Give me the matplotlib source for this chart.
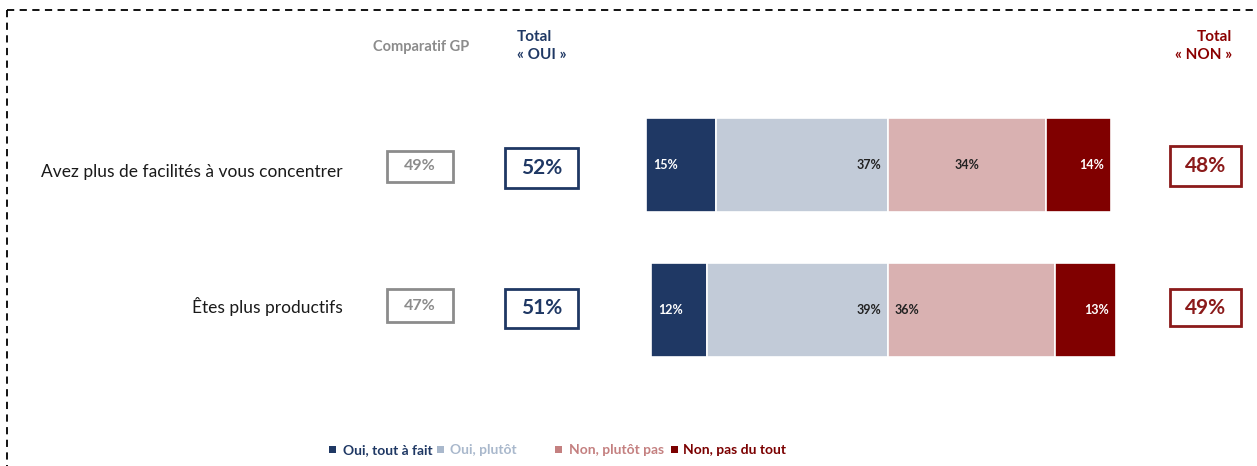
import matplotlib
matplotlib.use("Agg")
import matplotlib.pyplot as plt
from matplotlib.patches import Rectangle
from matplotlib.lines import Line2D

# ---- data ----
questions = ["Avez plus de facilités à vous concentrer", "Êtes plus productifs"]
oui_tout = [15, 12]
oui_plutot = [37, 39]
non_plutot = [34, 36]
non_pas = [14, 13]
comparatif_gp = [49, 47]
total_oui = [52, 51]
total_non = [48, 49]
legend_labels = ["Oui, tout à fait", "Oui, plutôt", "Non, plutôt pas", "Non, pas du tout"]

colors = ["#1f3864", "#c2cbd8", "#d9b1b1", "#800000"]
legend_sq_colors = ["#1f3864", "#a9b8cc", "#c48080", "#7b0000"]
legend_text_colors = ["#1f3864", "#a9b8cc", "#c48080", "#7b0000"]
label_colors = ["white", "#222222", "#222222", "white"]
# label placement inside each segment, per row
placements = [["base", "end", "center", "end"],
              ["base", "end", "base", "end"]]

W, H = 1257, 466
plt.rcParams['font.family'] = ['Lato', 'DejaVu Sans']
fig = plt.figure(figsize=(W / 100, H / 100), dpi=100)

def fx(px):
    return px / W

def fy(py):
    return 1 - py / H

# bar axes spanning whole figure; x in %, 0 at pixel 888
center_px = 888
scale = 4.65
ax = fig.add_axes([0, 0, 1, 1])
ax.set_xlim(-center_px / scale, (W - center_px) / scale)
row_px = [165, 310]
step = row_px[1] - row_px[0]
ax.set_ylim((H - row_px[0]) / step, -row_px[0] / step)
ax.axis("off")

bar_h = 94 / step
for i in range(len(questions)):
    segs = [oui_tout[i], oui_plutot[i], non_plutot[i], non_pas[i]]
    lefts = [-(oui_tout[i] + oui_plutot[i]), -oui_plutot[i], 0, non_plutot[i]]
    for j, (v, l) in enumerate(zip(segs, lefts)):
        ax.barh(i, v, left=l, height=bar_h, color=colors[j], edgecolor="white", linewidth=1.2)
        p = placements[i][j]
        pad = 1.5
        if p == "base":
            tx, ha = l + pad, "left"
        elif p == "end":
            tx, ha = l + v - pad, "right"
        else:
            tx, ha = l + v / 2, "center"
        ax.text(tx, i, f"{v}%", ha=ha, va="center", fontsize=9, fontweight="bold",
                color=label_colors[j])

# headers
fig.text(fx(421), fy(47), "Comparatif GP", ha="center", va="center", fontsize=10.5,
         fontweight="bold", color="#8c8c8c")
fig.text(fx(517), fy(46), "Total\n« OUI »", ha="left", va="center", fontsize=11,
         fontweight="bold", color="#1f3864", linespacing=1.45)
fig.text(fx(1232), fy(46), "Total\n« NON »", ha="right", va="center", fontsize=11,
         fontweight="bold", color="#8b0000", linespacing=1.45)

# row labels and boxes
box_y = [(151, 182), (289, 322)]
box_big = [(148, 188), (289, 328)]
box_non = [(146, 186), (289, 326)]
text_y = [172, 307]
for i, q in enumerate(questions):
    fig.text(fx(343), fy(text_y[i]), q, ha="right", va="center", fontsize=12.5, color="#1a1a1a")
    # GP
    y0, y1 = box_y[i]
    fig.patches.append(Rectangle((fx(387), fy(y1)), fx(453 - 387), (y1 - y0) / H,
                                 transform=fig.transFigure, fill=False,
                                 edgecolor="#8c8c8c", linewidth=2))
    fig.text(fx(420), fy((y0 + y1) / 2), f"{comparatif_gp[i]}%", ha="center", va="center",
             fontsize=11.5, fontweight="bold", color="#8c8c8c")
    # OUI
    y0, y1 = box_big[i]
    fig.patches.append(Rectangle((fx(505), fy(y1)), fx(578 - 505), (y1 - y0) / H,
                                 transform=fig.transFigure, fill=False,
                                 edgecolor="#1f3864", linewidth=2))
    fig.text(fx(541.5), fy((y0 + y1) / 2), f"{total_oui[i]}%", ha="center", va="center",
             fontsize=15, fontweight="bold", color="#1f3864")
    # NON
    y0, y1 = box_non[i]
    fig.patches.append(Rectangle((fx(1170), fy(y1)), fx(1241 - 1170), (y1 - y0) / H,
                                 transform=fig.transFigure, fill=False,
                                 edgecolor="#8b1a1a", linewidth=2))
    fig.text(fx(1205.5), fy((y0 + y1) / 2), f"{total_non[i]}%", ha="center", va="center",
             fontsize=15, fontweight="bold", color="#8b1a1a")

# legend
leg_sq_x = [329, 437, 555, 671]
leg_tx_x = [343, 450, 569, 683]
for k, lab in enumerate(legend_labels):
    fig.patches.append(Rectangle((fx(leg_sq_x[k]), fy(453)), fx(7), 7 / H,
                                 transform=fig.transFigure, color=legend_sq_colors[k],
                                 linewidth=0))
    fig.text(fx(leg_tx_x[k]), fy(450), lab, ha="left", va="center", fontsize=10,
             fontweight="bold", color=legend_text_colors[k])

# dashed frame
fig.lines.append(Line2D([fx(7), fx(W)], [fy(10), fy(10)], transform=fig.transFigure,
                        color="black", linewidth=1.3, linestyle=(0, (4, 3))))
fig.lines.append(Line2D([fx(7), fx(7)], [fy(10), fy(H)], transform=fig.transFigure,
                        color="black", linewidth=1.3, linestyle=(0, (4, 3))))

fig.savefig("out.png", dpi=100)
